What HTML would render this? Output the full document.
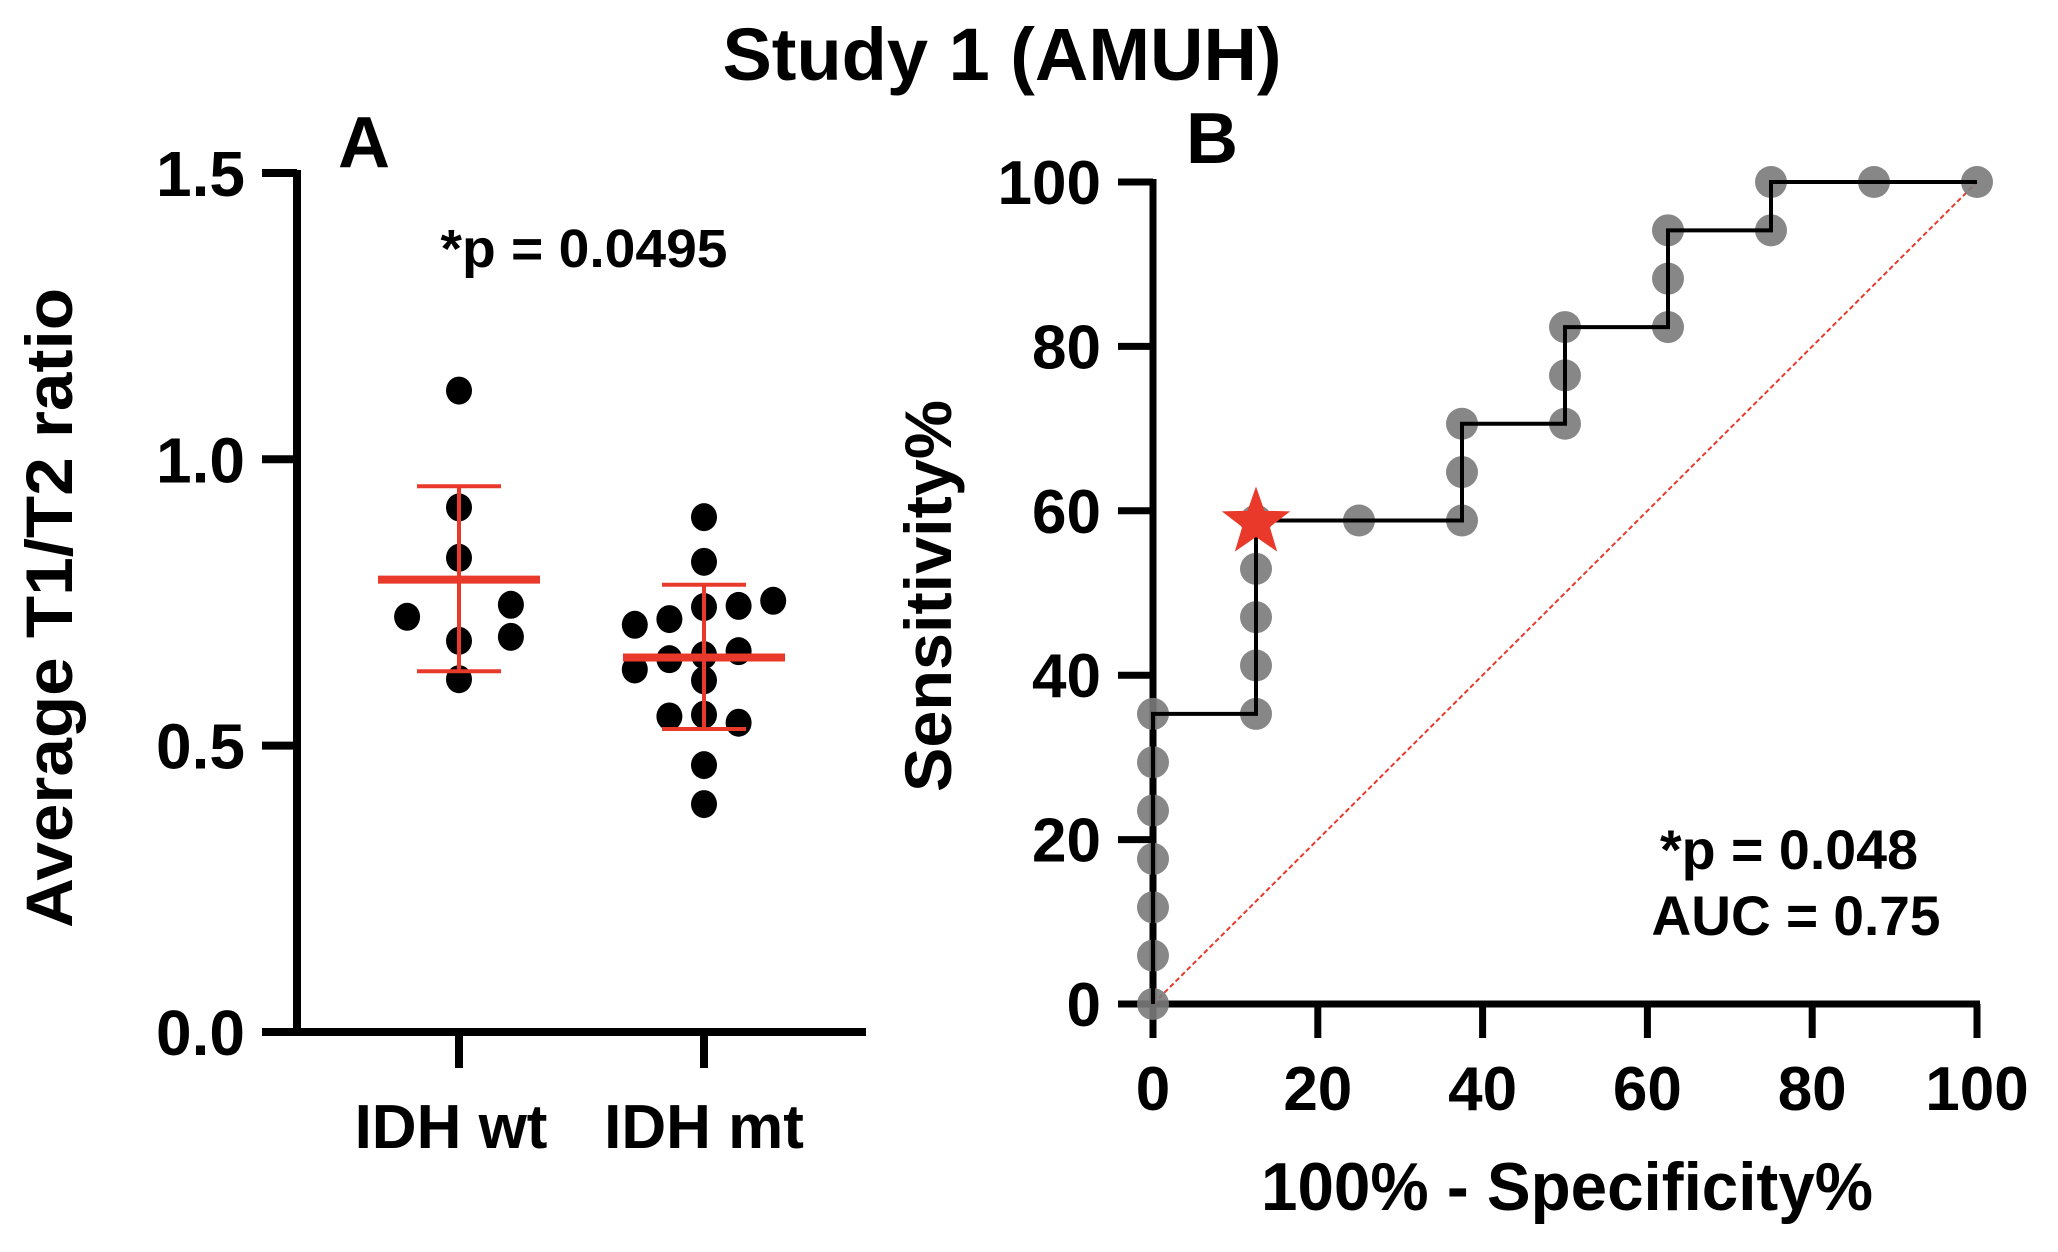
<!DOCTYPE html>
<html><head><meta charset="utf-8">
<style>
html,body{margin:0;padding:0;background:#fff;}
svg{display:block;font-family:"Liberation Sans",Arial,sans-serif;font-weight:bold;}
</style></head>
<body>
<svg id="chart" width="2058" height="1252" viewBox="0 0 2058 1252" xmlns="http://www.w3.org/2000/svg">
<rect width="2058" height="1252" fill="#fff"/>
<text x="1002" y="80" font-size="74" text-anchor="middle">Study 1 (AMUH)</text>
<g id="panelA"></g>
<g id="panelB"></g>
</svg>
<script>
// ---- Panel A data ----
const catLabels = ["IDH wt", "IDH mt"];
const wtValues = [1.12, 0.916, 0.828, 0.725, 0.746, 0.683, 0.690, 0.616];
const wtCols   = [0, 0, 0, -1.5, 1.5, 0, 1.5, 0];
const mtValues = [0.899, 0.821, 0.711, 0.721, 0.742, 0.744, 0.753, 0.633, 0.651, 0.658, 0.665, 0.614, 0.551, 0.554, 0.540, 0.466, 0.398];
const mtCols   = [0, 0, -2, -1, 0, 1, 2, -2, -1, 0, 1, 0, -1, 0, 1, 0, 0];
const groupMeans = [0.790, 0.654];
const groupSdHigh = [0.953, 0.781];
const groupSdLow = [0.630, 0.529];
const yTicksA = [0, 0.5, 1.0, 1.5];
const yTickLabelsA = ["0.0", "0.5", "1.0", "1.5"];
// ---- Panel B data ----
const rocFpr = [0,0,0,0,0,0,0,12.5,12.5,12.5,12.5,12.5,25,37.5,37.5,37.5,50,50,50,62.5,62.5,62.5,75,75,87.5,100];
const rocSens = [0,5.88,11.76,17.65,23.53,29.41,35.29,35.29,41.18,47.06,52.94,58.82,58.82,58.82,64.71,70.59,70.59,76.47,82.35,82.35,88.24,94.12,94.12,100,100,100];
const cutoffPoint = [12.5, 58.82];
const ticksB = [0, 20, 40, 60, 80, 100];

const NS = "http://www.w3.org/2000/svg";
function mk(parent, tag, attrs, text) {
  const el = document.createElementNS(NS, tag);
  for (const k in attrs) el.setAttribute(k, attrs[k]);
  if (text !== undefined) el.textContent = text;
  parent.appendChild(el);
  return el;
}

// ---------- Panel A ----------
(function(){
  const g = document.getElementById("panelA");
  const y = v => 1032 - v * 572.7;
  const xCat = i => [459, 704][i];
  const labelShift = [-8, 0];
  const jit = 34.6;
  let e = mk(g, "line", {x1:297, y1:y(1.5)-3, x2:297, y2:y(0)+4, stroke:"#000", "stroke-width":8});
  
  
  e = mk(g, "line", {x1:262, y1:y(0), x2:866, y2:y(0), stroke:"#000", "stroke-width":8});
  
  
  yTicksA.forEach((t, i) => {
    const tk = mk(g, "line", {x1:262, y1:y(t), x2:297, y2:y(t), stroke:"#000", "stroke-width":8});
    
    
    const lb = mk(g, "text", {x:245, y:y(t)+23, "font-size":64, "text-anchor":"end"}, yTickLabelsA[i]);
    
    
  });
  catLabels.forEach((c, i) => {
    const tk = mk(g, "line", {x1:xCat(i), y1:y(0), x2:xCat(i), y2:1068, stroke:"#000", "stroke-width":8});
    
    
    const lb = mk(g, "text", {x:xCat(i)+labelShift[i], y:1148, "font-size":62, "text-anchor":"middle"}, c);
    
    
  });
  const yt = mk(g, "text", {x:0, y:0, "font-size":66, "text-anchor":"middle", transform:"translate(72,608) rotate(-90)", textLength:640, lengthAdjust:"spacingAndGlyphs"}, "Average T1/T2 ratio");
  
  
  const pl = mk(g, "text", {x:338, y:167, "font-size":72}, "A");
  
  
  const pv = mk(g, "text", {x:584, y:267, "font-size":54, "text-anchor":"middle", textLength:287, lengthAdjust:"spacingAndGlyphs"}, "*p = 0.0495");
  
  
  [[wtValues, wtCols], [mtValues, mtCols]].forEach((grp, gi) => {
    grp[0].forEach((v, j) => {
      const c = mk(g, "ellipse", {cx:xCat(gi) + grp[1][j]*jit, cy:y(v), rx:13, ry:14, fill:"#000"});
      
      
    });
  });
  groupMeans.forEach((m, i) => {
    const cx = xCat(i);
    let l = mk(g, "line", {x1:cx, y1:y(groupSdHigh[i]), x2:cx, y2:y(groupSdLow[i]), stroke:"#e8392b", "stroke-width":4});
    
    
    l = mk(g, "line", {x1:cx-42, y1:y(groupSdHigh[i]), x2:cx+42, y2:y(groupSdHigh[i]), stroke:"#e8392b", "stroke-width":4});
    
    
    l = mk(g, "line", {x1:cx-42, y1:y(groupSdLow[i]), x2:cx+42, y2:y(groupSdLow[i]), stroke:"#e8392b", "stroke-width":4});
    
    
    l = mk(g, "line", {x1:cx-81, y1:y(m), x2:cx+81, y2:y(m), stroke:"#e8392b", "stroke-width":8});
    
    
  });
})();

// ---------- Panel B ----------
(function(){
  const g = document.getElementById("panelB");
  const x = v => 1153 + v * 8.24;
  const y = v => 1004 - v * 8.22;
  let e = mk(g, "line", {x1:x(0), y1:y(100)-3, x2:x(0), y2:1038, stroke:"#000", "stroke-width":7});
  
  
  e = mk(g, "line", {x1:1118, y1:y(0), x2:x(100)+3, y2:y(0), stroke:"#000", "stroke-width":7});
  
  
  ticksB.forEach(t => {
    let tk = mk(g, "line", {x1:1118, y1:y(t), x2:x(0), y2:y(t), stroke:"#000", "stroke-width":7});
    
    
    let lb = mk(g, "text", {x:1101, y:y(t)+22, "font-size":62, "text-anchor":"end"}, String(t));
    
    
    tk = mk(g, "line", {x1:x(t), y1:y(0), x2:x(t), y2:1038, stroke:"#000", "stroke-width":7});
    
    
    lb = mk(g, "text", {x:x(t), y:1110, "font-size":62, "text-anchor":"middle"}, String(t));
    
    
  });
  const d = mk(g, "line", {x1:x(0), y1:y(0), x2:x(100), y2:y(100), stroke:"#e8392b", "stroke-width":2, "stroke-dasharray":"5,3"});
  
  
  rocFpr.forEach((f, i) => {
    const c = mk(g, "circle", {cx:x(f), cy:y(rocSens[i]), r:16, fill:"#7a7a7a", "fill-opacity":0.9});
    
    
  });
  let pts = [];
  rocFpr.forEach((f, i) => {
    if (i > 0) pts.push(x(f) + "," + y(rocSens[i-1]));
    pts.push(x(f) + "," + y(rocSens[i]));
  });
  const pl = mk(g, "polyline", {points:pts.join(" "), fill:"none", stroke:"#000", "stroke-width":4});
  
  
  const sx = x(cutoffPoint[0]), sy = y(cutoffPoint[1]);
  let sp = [];
  for (let k = 0; k < 10; k++) {
    const r = k % 2 === 0 ? 36 : 14.5;
    const a = -Math.PI/2 + k * Math.PI/5;
    sp.push((sx + r*Math.cos(a)).toFixed(1) + "," + (sy + 2 + r*Math.sin(a)).toFixed(1));
  }
  const st = mk(g, "polygon", {points:sp.join(" "), fill:"#e8392b"});
  
  
  let t = mk(g, "text", {x:1186, y:163, "font-size":72}, "B");
  
  
  t = mk(g, "text", {x:0, y:0, "font-size":66, "text-anchor":"middle", transform:"translate(951,596) rotate(-90)", textLength:392, lengthAdjust:"spacingAndGlyphs"}, "Sensitivity%");
  
  
  t = mk(g, "text", {x:1567, y:1210, "font-size":68, "text-anchor":"middle", textLength:612, lengthAdjust:"spacingAndGlyphs"}, "100% - Specificity%");
  
  
  t = mk(g, "text", {x:1789, y:869, "font-size":56, "text-anchor":"middle", textLength:258, lengthAdjust:"spacingAndGlyphs"}, "*p = 0.048");
  
  
  t = mk(g, "text", {x:1796, y:935, "font-size":56, "text-anchor":"middle", textLength:289, lengthAdjust:"spacingAndGlyphs"}, "AUC = 0.75");
  
  
})();
</script>
</body></html>
